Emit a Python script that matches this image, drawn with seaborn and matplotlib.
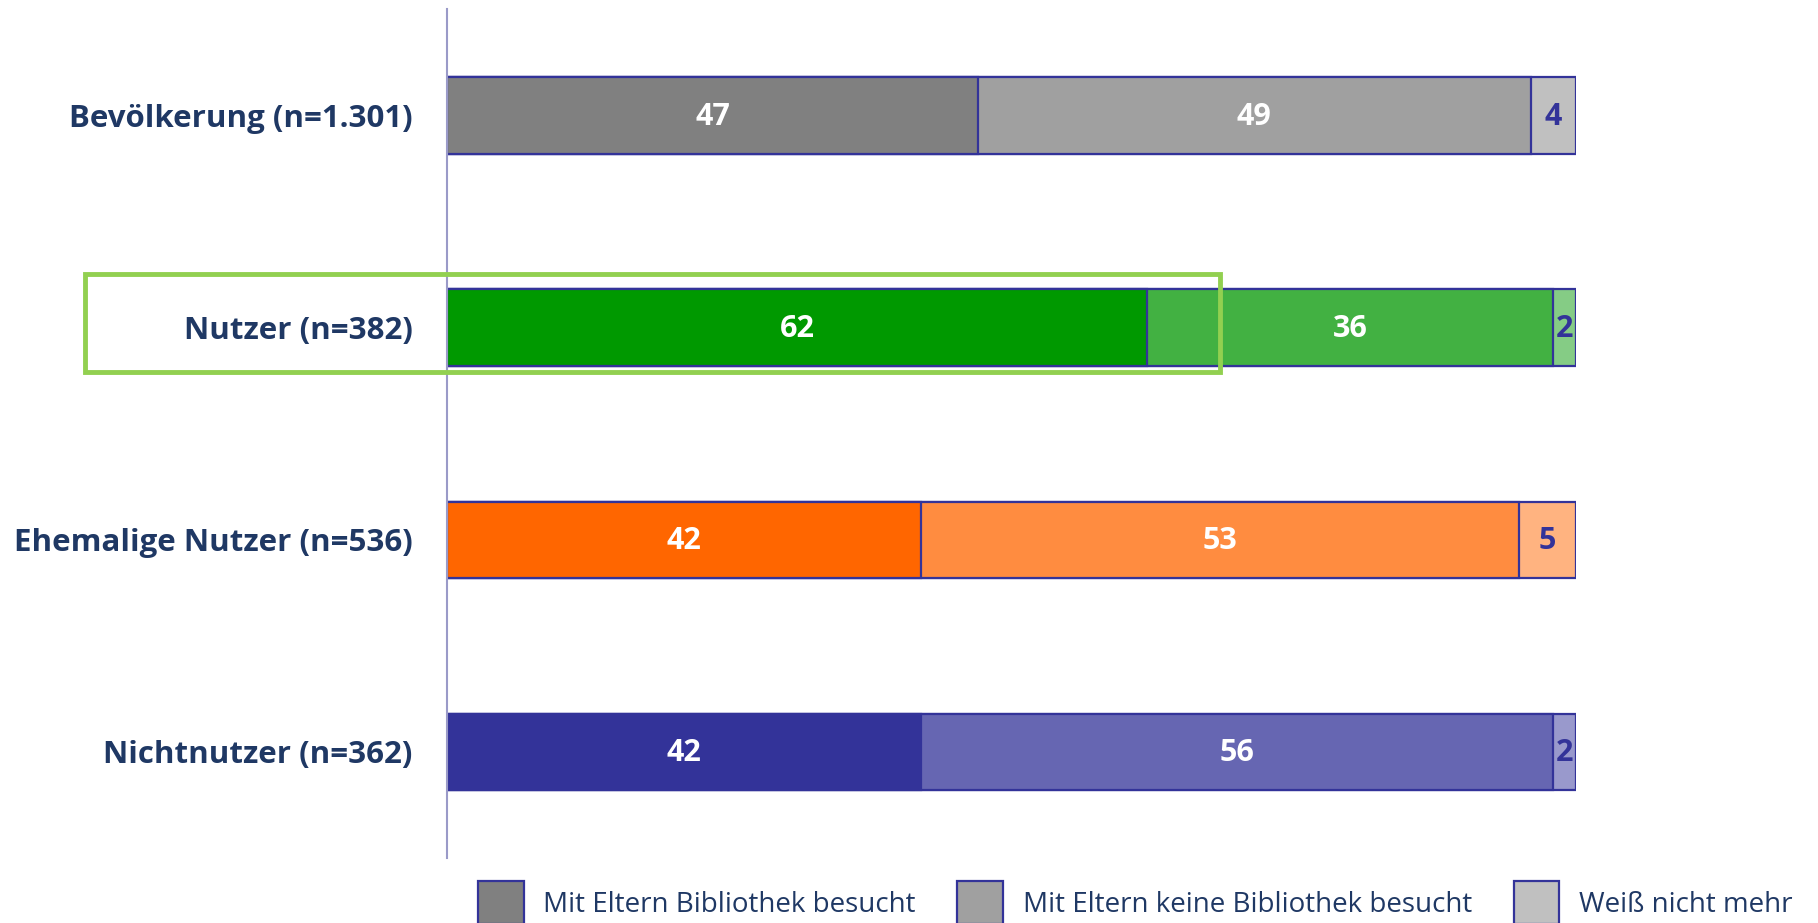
import seaborn as sns
import numpy as np
import matplotlib.pyplot as plt
from matplotlib.patches import Patch, Rectangle

categories = ['Bevölkerung (n=1.301)', 'Nutzer (n=382)', 'Ehemalige Nutzer (n=536)', 'Nichtnutzer (n=362)']
series = ['Mit Eltern Bibliothek besucht', 'Mit Eltern keine Bibliothek besucht', 'Weiß nicht mehr']
mit_eltern = [47, 62, 42, 42]
ohne_eltern = [49, 36, 53, 56]
weiss_nicht = [4, 2, 5, 2]

dark = ['#808080', '#009900', '#FF6600', '#333399']
mid = ['#A0A0A0', '#42B142', '#FF8C40', '#6666B2']
light = ['#C0C0C0', '#85CC85', '#FFB380', '#9999CC']

navy = '#1F3864'
edge = '#333399'

sns.set_style('white')
plt.rcParams['font.family'] = ['Open Sans', 'DejaVu Sans']

fig = plt.figure(figsize=(18.18, 9.23), dpi=100)
ax = fig.add_axes([0.2461, 0.0704, 0.6206, 0.9196])

vals = np.array([mit_eltern, ohne_eltern, weiss_nicht], dtype=float)
cum = np.cumsum(vals, axis=0)

# draw cumulative totals from the longest down so shorter layers sit on top
for layer, cols in zip([2, 1, 0], [light, mid, dark]):
    sns.barplot(x=cum[layer], y=categories, hue=categories, palette=cols, orient='h',
                width=0.36, edgecolor=edge, linewidth=1.6, legend=False, ax=ax, saturation=1)

lefts = cum - vals
for i in range(len(categories)):
    for layer in range(3):
        v = vals[layer, i]
        x = lefts[layer, i] + v / 2
        small = layer == 2
        ax.text(x, i + 0.006, f'{int(v)}', ha='center', va='center', fontsize=22, fontweight='bold',
                color=edge if small else 'white')

ax.set_xlim(0, 100)
ax.set_ylim(3.5, -0.5)
ax.set_xticks([])
ax.set_xlabel('')
ax.set_ylabel('')
for s in ['top', 'right', 'bottom']:
    ax.spines[s].set_visible(False)
ax.spines['left'].set_color('#9A9AC8')
ax.spines['left'].set_linewidth(1.5)
ax.tick_params(axis='y', length=0, pad=25)
for lab in ax.get_yticklabels():
    lab.set_fontsize(22.5)
    lab.set_fontweight('bold')
    lab.set_color(navy)

# green highlight around the Nutzer row
fig.patches.append(Rectangle((85 / 1818, 1 - 372 / 923), (1220 - 85) / 1818, (372 - 274) / 923,
                             transform=fig.transFigure, fill=False, edgecolor='#92D050', linewidth=3.5))

handles = [Patch(facecolor=c, edgecolor=edge, linewidth=1.6) for c in dark[:1] + mid[:1] + light[:1]]
fig.legend(handles, series, loc='center left', bbox_to_anchor=(478 / 1818, 0.022), ncol=3,
           frameon=False, fontsize=20, labelcolor=navy, handlelength=1.65, handleheight=2.0,
           handletextpad=0.7, columnspacing=1.5, borderpad=0, borderaxespad=0)

fig.savefig('out.png', dpi=100)
